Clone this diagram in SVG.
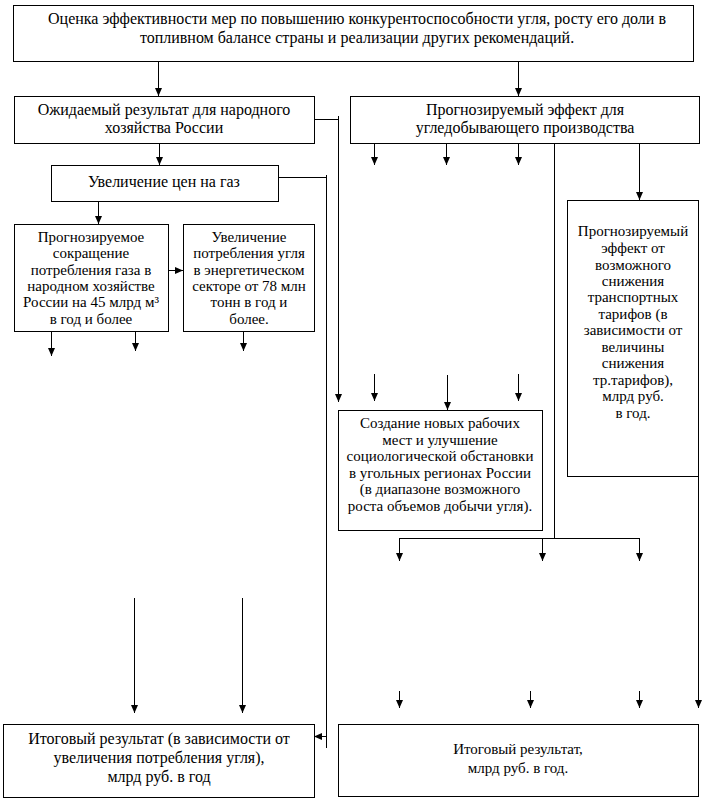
<svg xmlns="http://www.w3.org/2000/svg" width="705" height="799" viewBox="0 0 705 799">
<style>
.box{fill:#fff;stroke:#000;stroke-width:1}
.ln{fill:none;stroke:#000;stroke-width:1}
text{font-family:"Liberation Serif","DejaVu Serif",serif;font-size:15px;fill:#000;text-anchor:middle}
.lg text{font-size:16px}
</style>
<defs>
<marker id="ah" viewBox="0 0 8 8" markerWidth="8" markerHeight="8" refX="8" refY="4" orient="auto" markerUnits="userSpaceOnUse">
<path d="M0,0.5 L8,4 L0,7.5 Z" fill="#000"/>
</marker>
</defs>
<g id="connectors">
<line class="ln" x1="158.5" y1="61" x2="158.5" y2="96" marker-end="url(#ah)"/>
<line class="ln" x1="518.5" y1="61" x2="518.5" y2="96" marker-end="url(#ah)"/>
<line class="ln" x1="159.5" y1="144" x2="159.5" y2="165" marker-end="url(#ah)"/>
<polyline class="ln" points="314,119.5 338.5,119.5"/>
<line class="ln" x1="338.5" y1="116" x2="338.5" y2="402" marker-end="url(#ah)"/>
<polyline class="ln" points="278,177.5 326.5,177.5"/>
<line class="ln" x1="326.5" y1="175" x2="326.5" y2="748"/>
<line class="ln" x1="326.5" y1="736.5" x2="314" y2="736.5" marker-end="url(#ah)"/>
<line class="ln" x1="98.5" y1="201" x2="98.5" y2="224" marker-end="url(#ah)"/>
<line class="ln" x1="168" y1="270.5" x2="183" y2="270.5" marker-end="url(#ah)"/>
<line class="ln" x1="51.5" y1="331" x2="51.5" y2="356" marker-end="url(#ah)"/>
<line class="ln" x1="135.5" y1="331" x2="135.5" y2="351" marker-end="url(#ah)"/>
<line class="ln" x1="243.5" y1="331" x2="243.5" y2="351" marker-end="url(#ah)"/>
<line class="ln" x1="374.5" y1="144" x2="374.5" y2="165" marker-end="url(#ah)"/>
<line class="ln" x1="446.5" y1="144" x2="446.5" y2="165" marker-end="url(#ah)"/>
<line class="ln" x1="518.5" y1="144" x2="518.5" y2="165" marker-end="url(#ah)"/>
<line class="ln" x1="639.5" y1="144" x2="639.5" y2="200" marker-end="url(#ah)"/>
<line class="ln" x1="554.5" y1="138" x2="554.5" y2="538"/>
<polyline class="ln" points="399.5,538.5 639.5,538.5"/>
<line class="ln" x1="399.5" y1="538" x2="399.5" y2="561" marker-end="url(#ah)"/>
<line class="ln" x1="542.5" y1="538" x2="542.5" y2="561" marker-end="url(#ah)"/>
<line class="ln" x1="639.5" y1="538" x2="639.5" y2="561" marker-end="url(#ah)"/>
<line class="ln" x1="374.5" y1="374" x2="374.5" y2="401" marker-end="url(#ah)"/>
<line class="ln" x1="447.5" y1="375" x2="447.5" y2="410" marker-end="url(#ah)"/>
<line class="ln" x1="518.5" y1="374" x2="518.5" y2="401" marker-end="url(#ah)"/>
<line class="ln" x1="698.5" y1="476" x2="698.5" y2="708" marker-end="url(#ah)"/>
<line class="ln" x1="134.5" y1="598" x2="134.5" y2="713" marker-end="url(#ah)"/>
<line class="ln" x1="242.5" y1="598" x2="242.5" y2="713" marker-end="url(#ah)"/>
<line class="ln" x1="399.5" y1="691" x2="399.5" y2="708" marker-end="url(#ah)"/>
<line class="ln" x1="530.5" y1="691" x2="530.5" y2="708" marker-end="url(#ah)"/>
<line class="ln" x1="639.5" y1="691" x2="639.5" y2="708" marker-end="url(#ah)"/>
</g>
<g id="n-top" class="lg">
<rect class="box" x="13.5" y="5.5" width="680" height="56"/>
<text x="357" y="24">Оценка эффективности мер по повышению конкурентоспособности угля, росту его доли в</text>
<text x="357" y="43">топливном балансе страны и реализации других рекомендаций.</text>
</g>
<g id="n-expected" class="lg">
<rect class="box" x="14.5" y="96.5" width="300" height="47"/>
<text x="164" y="115">Ожидаемый результат для народного</text>
<text x="164" y="133">хозяйства России</text>
</g>
<g id="n-forecast" class="lg">
<rect class="box" x="350.5" y="96.5" width="349" height="47"/>
<text x="525" y="115">Прогнозируемый эффект для</text>
<text x="525" y="133">угледобывающего производства</text>
</g>
<g id="n-gas" class="lg">
<rect class="box" x="51.5" y="165.5" width="227" height="36"/>
<text x="164" y="187">Увеличение цен на газ</text>
</g>
<g id="n-reduction">
<rect class="box" x="14.5" y="224.5" width="154" height="107"/>
<text x="91" y="242">Прогнозируемое</text>
<text x="91" y="258">сокращение</text>
<text x="91" y="275">потребления газа в</text>
<text x="91" y="291">народном хозяйстве</text>
<text x="91" y="307">России на 45 млрд м³</text>
<text x="91" y="324">в год и более</text>
</g>
<g id="n-coal">
<rect class="box" x="183.5" y="224.5" width="131" height="107"/>
<text x="249" y="242">Увеличение</text>
<text x="249" y="258">потребления угля</text>
<text x="249" y="275">в энергетическом</text>
<text x="249" y="291">секторе от 78 млн</text>
<text x="249" y="307">тонн в год и</text>
<text x="249" y="324">более.</text>
</g>
<g id="n-tariffs">
<rect class="box" x="567.5" y="200.5" width="131" height="276"/>
<text x="633" y="236">Прогнозируемый</text>
<text x="633" y="253">эффект от</text>
<text x="633" y="270">возможного</text>
<text x="633" y="286">снижения</text>
<text x="633" y="302">транспортных</text>
<text x="633" y="319">тарифов (в</text>
<text x="633" y="335">зависимости от</text>
<text x="633" y="352">величины</text>
<text x="633" y="368">снижения</text>
<text x="633" y="385">тр.тарифов),</text>
<text x="633" y="401">млрд руб.</text>
<text x="633" y="418">в год.</text>
</g>
<g id="n-jobs">
<rect class="box" x="338.5" y="410.5" width="204" height="120"/>
<text x="440" y="428">Создание новых рабочих</text>
<text x="440" y="445">мест и улучшение</text>
<text x="440" y="461">социологической обстановки</text>
<text x="440" y="478">в угольных регионах России</text>
<text x="440" y="494">(в диапазоне возможного</text>
<text x="440" y="511">роста объемов добычи угля).</text>
</g>
<g id="n-result-left" class="lg">
<rect class="box" x="3.5" y="724.5" width="311" height="73"/>
<text x="159" y="744">Итоговый результат (в зависимости от</text>
<text x="159" y="763">увеличения потребления угля),</text>
<text x="159" y="782">млрд руб. в год</text>
</g>
<g id="n-result-right">
<rect class="box" x="338.5" y="724.5" width="360" height="72"/>
<text x="518" y="754">Итоговый результат,</text>
<text x="518" y="773">млрд руб. в год.</text>
</g>
</svg>
